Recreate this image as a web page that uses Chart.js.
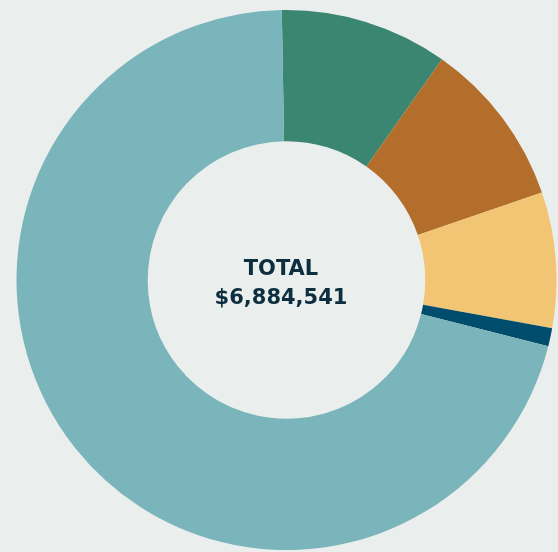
<!DOCTYPE html>
<html>
<head>
<meta charset="utf-8">
<script src="https://cdn.jsdelivr.net/npm/chart.js@4"></script>
<style>
  html, body { margin: 0; padding: 0; background: #eaeeec; }
  #wrap { width: 558px; height: 552px; }
</style>
</head>
<body>
<div id="wrap"><canvas id="chart"></canvas></div>
<script>
// slices, clockwise from the top
var labels = ['Green', 'Orange', 'Yellow', 'Navy', 'Teal'];
var values = [691000, 688000, 558000, 74400, 4873141];
var colors = ['#3a8670', '#b36e2c', '#f2c574', '#004c6d', '#7ab5bb'];
var centerLines = ['TOTAL', '$6,884,541'];

// draws the total in the hole
var centerText = {
    id: 'centerText',
    afterDraw: function (chart) {
        var ctx = chart.ctx;
        ctx.save();
        ctx.fillStyle = '#0d2e3f';
        ctx.textAlign = 'center';
        ctx.textBaseline = 'alphabetic';
        ctx.font = 'bold 21px "DejaVu Sans"';
        ctx.fillText(centerLines[0], 281, 275);
        ctx.fillText(centerLines[1], 281, 304);
        ctx.restore();
    }
};

new Chart(document.getElementById('chart'), {
    type: 'doughnut',
    data: {
        labels: labels,
        datasets: [{
            data: values,
            backgroundColor: colors,
            borderWidth: 0
        }]
    },
    options: {
        responsive: true,
        maintainAspectRatio: false,
        animation: false,
        cutout: '51.4%',
        rotation: -1,
        layout: { padding: { left: 16, right: 1, top: 10, bottom: 2 } },
        plugins: {
            legend: { display: false },
            tooltip: { enabled: false }
        }
    },
    plugins: [centerText]
});
</script>
</body>
</html>
